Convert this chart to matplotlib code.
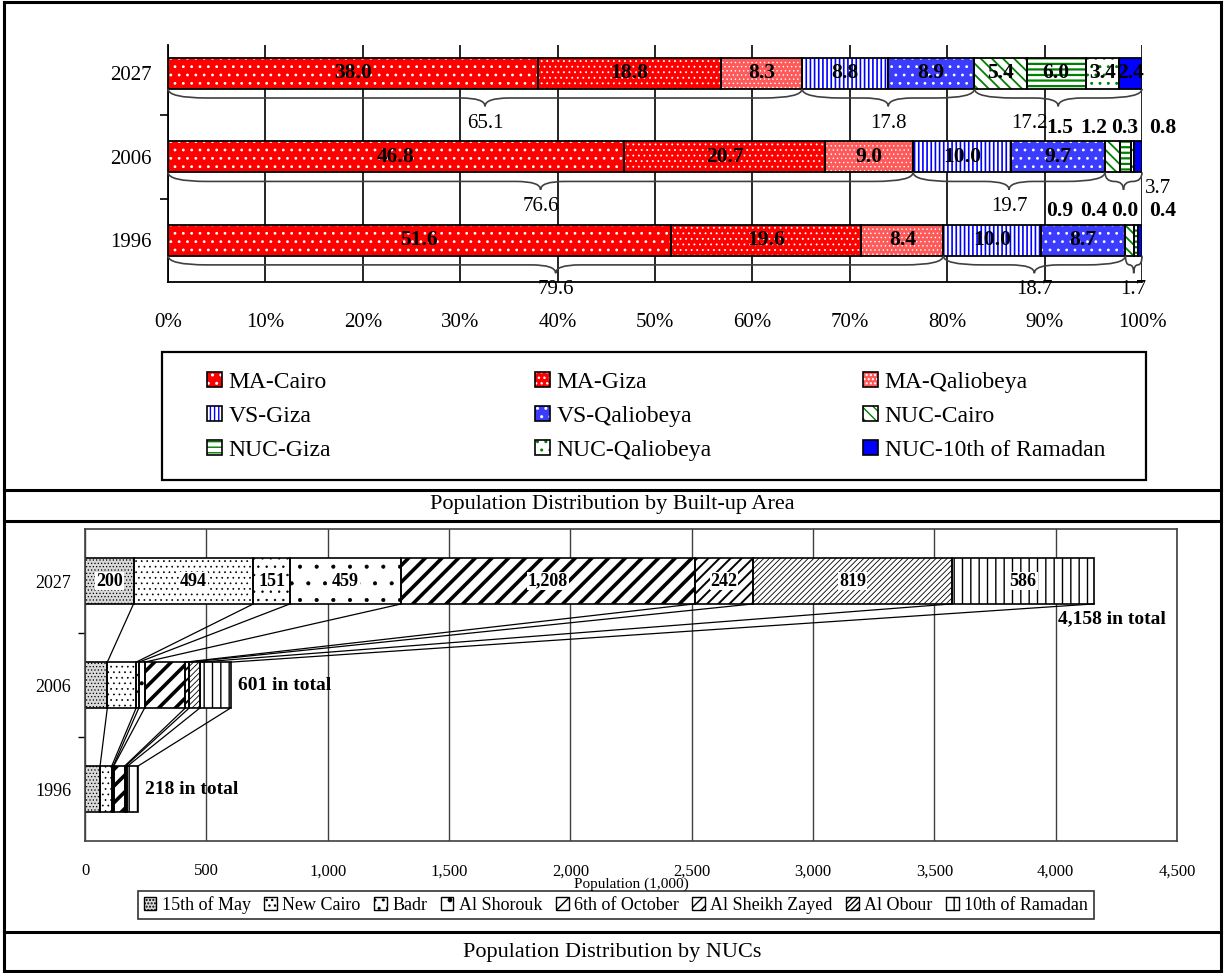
import matplotlib
matplotlib.use("Agg")
import matplotlib.pyplot as plt
import numpy as np
from matplotlib.patches import Patch, Rectangle, PathPatch
from matplotlib.path import Path
from matplotlib.lines import Line2D

plt.rcParams['font.family'] = ['Liberation Serif', 'DejaVu Serif']

# ---------------- data ----------------
years = ['2027', '2006', '1996']

area_names = ['MA-Cairo', 'MA-Giza', 'MA-Qaliobeya', 'VS-Giza', 'VS-Qaliobeya',
              'NUC-Cairo', 'NUC-Giza', 'NUC-Qaliobeya', 'NUC-10th of Ramadan']
share_2027 = [38.0, 18.8, 8.3, 8.8, 8.9, 5.4, 6.0, 3.4, 2.4]
share_2006 = [46.8, 20.7, 9.0, 10.0, 9.7, 1.5, 1.2, 0.3, 0.8]
share_1996 = [51.6, 19.6, 8.4, 10.0, 8.7, 0.9, 0.4, 0.0, 0.4]
group_sizes = [3, 2, 4]              # MA, VS, NUC
group_totals_2027 = [65.1, 17.8, 17.2]
group_totals_2006 = [76.6, 19.7, 3.7]
group_totals_1996 = [79.6, 18.7, 1.7]
pct_labels = ['0%', '10%', '20%', '30%', '40%', '50%', '60%', '70%', '80%', '90%', '100%']

nuc_names = ['15th of May', 'New Cairo', 'Badr', 'Al Shorouk', '6th of October',
             'Al Sheikh Zayed', 'Al Obour', '10th of Ramadan']
pop_2027 = [200, 494, 151, 459, 1208, 242, 819, 586]
pop_2006 = [92, 119, 11, 24, 168, 16, 44, 127]
pop_1996 = [62, 48, 6, 2, 45, 4, 8, 43]
pop_totals = [4158, 601, 218]
pop_ticks = [0, 500, 1000, 1500, 2000, 2500, 3000, 3500, 4000, 4500]

shares = [share_2027, share_2006, share_1996]
group_totals = [group_totals_2027, group_totals_2006, group_totals_1996]
pops = [pop_2027, pop_2006, pop_1996]

# ---------------- styles ----------------
# (face, hatch colour, hatch, hatch linewidth)
area_styles = [
    ('#ff0000', 'white', '..', 0.8),
    ('#ff0000', 'white', '...', 0.6),
    ('#ff5a5a', 'white', '....', 0.5),
    ('white', '#0000ff', '||||', 1.2),
    ('#3c3cff', 'white', '..', 0.8),
    ('white', '#008000', '\\\\\\', 1.3),
    ('white', '#008000', '---', 1.6),
    ('white', '#008000', '..', 0.9),
    ('#0000ff', '#0000ff', '', 0.0),
]
nuc_styles = [
    ('#d8d8d8', 'black', '.....', 0.5),
    ('white', 'black', '...', 0.5),
    ('white', 'black', '..', 0.5),
    ('white', 'black', '.', 0.5),
    ('white', 'black', '//', 2.6),
    ('white', 'black', '///', 1.4),
    ('white', 'black', '//////', 0.6),
    ('white', 'black', '||', 1.0),
]

W, H = 1225, 973
fig = plt.figure(figsize=(W / 100, H / 100), dpi=100)


def fx(px):
    return px / W


def fy(py):
    return 1 - py / H


def hatched_barh(ax, y, width, left, height, style, edge_lw, zorder=2):
    face, hcol, hatch, hlw = style
    bar = ax.barh(y, width, left=left, height=height, color=face,
                  edgecolor=hcol, hatch=hatch if hatch else None,
                  linewidth=0, zorder=zorder)[0]
    if hatch and hasattr(bar, 'set_hatch_linewidth'):
        bar.set_hatch_linewidth(hlw)
    ax.barh(y, width, left=left, height=height, fill=False,
            edgecolor='black', linewidth=edge_lw, zorder=zorder + 0.1)


def brace(ax, x0, x1, yb, d1, d2, color='#404040'):
    """Curly brace under a bar, opening upwards (y axis is inverted)."""
    m = (x0 + x1) / 2
    e = min(4.0, (x1 - x0) / 4)
    t = min(2.5, (x1 - x0) / 4)
    y1, y2 = yb + d1, yb + d2
    verts = [(x0, yb), (x0, y1), (x0 + e, y1), (m - t, y1),
             (m, y1), (m, y2), (m, y1), (m + t, y1),
             (x1 - e, y1), (x1, y1), (x1, yb)]
    codes = [Path.MOVETO, Path.CURVE3, Path.CURVE3, Path.LINETO,
             Path.CURVE3, Path.CURVE3, Path.CURVE3, Path.CURVE3,
             Path.LINETO, Path.CURVE3, Path.CURVE3]
    ax.add_patch(PathPatch(Path(verts, codes), fill=False, edgecolor=color,
                           linewidth=1.2, zorder=3, clip_on=False))


# ================= Built-up area chart =================
ax = fig.add_axes([fx(168), fy(282), fx(1142) - fx(168), (282 - 45) / H])
bar_h = 0.37
ypos = np.arange(len(years))
small_label_x = [91.6, 95.0, 98.2, 102.1]

for yi, vals in enumerate(shares):
    lefts = np.concatenate([[0], np.cumsum(vals)[:-1]])
    small_i = 0
    for si, (v, l) in enumerate(zip(vals, lefts)):
        hatched_barh(ax, yi, v, l, bar_h, area_styles[si], 1.3)
        if v >= 2.0:
            ax.text(l + v / 2, yi, f'{v:.1f}', ha='center', va='center',
                    fontsize=15.5, fontweight='bold', zorder=5)
        else:
            ax.text(small_label_x[small_i], yi - bar_h / 2 - 0.16, f'{v:.1f}',
                    ha='center', va='center', fontsize=15.5, fontweight='bold',
                    zorder=5, clip_on=False)
            small_i += 1
    # group braces
    bounds = np.concatenate([[0], np.cumsum(group_sizes)])
    cum = np.concatenate([[0], np.cumsum(vals)])
    for gi in range(len(group_sizes)):
        x0, x1 = cum[bounds[gi]], cum[bounds[gi + 1]]
        yb = yi + bar_h / 2
        brace(ax, x0, x1, yb, 0.11, 0.21)
        dx, dy = 0.0, 0.41
        if gi == 2 and yi == 0:
            dx = -3.0
        if gi == 2 and yi == 1:
            dx, dy = 3.5, 0.2
        ax.text((x0 + x1) / 2 + dx, yb + dy, f'{group_totals[yi][gi]:.1f}',
                ha='center', va='center', fontsize=15, zorder=5, clip_on=False)

ax.set_xlim(0, 100)
ax.set_ylim(2.5, -0.34)
ax.set_xticks(np.arange(0, 101, 10))
ax.set_xticklabels(pct_labels, fontsize=15)
ax.tick_params(axis='x', length=0, pad=22)
ax.set_yticks(ypos)
ax.set_yticklabels(years, fontsize=15)
ax.tick_params(axis='y', which='major', length=0, pad=12)
ax.set_yticks([0.5, 1.5], minor=True)
ax.tick_params(axis='y', which='minor', length=6, width=1.2, direction='out')
ax.grid(axis='x', color='black', linewidth=1.2)
ax.set_axisbelow(True)
for s in ['top', 'right']:
    ax.spines[s].set_visible(False)
for s in ['left', 'bottom']:
    ax.spines[s].set_linewidth(1.3)

# legend: three columns, three rows
fig.add_artist(Rectangle((fx(162), fy(480)), fx(1146) - fx(162), (480 - 352) / H,
                         transform=fig.transFigure, fill=False, edgecolor='black',
                         linewidth=1.6))
col_x = [207, 535, 863]
for c in range(3):
    hs, ls = [], []
    for r in range(3):
        k = r * 3 + c
        face, hcol, hatch, hlw = area_styles[k]
        p1 = Patch(facecolor=face, edgecolor=hcol, hatch=hatch if hatch else None, linewidth=0)
        p2 = Patch(fill=False, edgecolor='black', linewidth=1.2)
        hs.append((p1, p2))
        ls.append(area_names[k])
    fig.legend(hs, ls, loc='upper left', bbox_to_anchor=(fx(col_x[c]), fy(372)),
               frameon=False, borderpad=0, borderaxespad=0, fontsize=17,
               handlelength=0.62, handleheight=0.62, handletextpad=0.3,
               labelspacing=0.55)

# ================= NUC population chart =================
ax2 = fig.add_axes([fx(85), fy(841), fx(1177) - fx(85), (841 - 529) / H])
nuc_h = 0.44
cums = []
for yi, vals in enumerate(pops):
    lefts = np.concatenate([[0], np.cumsum(vals)[:-1]])
    cums.append(np.cumsum(vals))
    for si, (v, l) in enumerate(zip(vals, lefts)):
        hatched_barh(ax2, yi, v, l, nuc_h, nuc_styles[si], 1.2)
        if yi == 0:
            ax2.text(l + v / 2, yi, f'{v:,}', ha='center', va='center',
                     fontsize=13, fontweight='bold', zorder=6,
                     bbox=dict(facecolor='white', edgecolor='none', pad=0.6))

# series lines joining segment ends between years
for yi in range(len(pops) - 1):
    for a, b in zip(cums[yi], cums[yi + 1]):
        ax2.plot([a, b], [yi + nuc_h / 2, yi + 1 - nuc_h / 2], color='black',
                 linewidth=0.9, zorder=4)

ax2.text(pop_totals[0] + 75, 0.36, f'{pop_totals[0]:,} in total', ha='center',
         va='center', fontsize=14, fontweight='bold')
for yi in (1, 2):
    ax2.text(pop_totals[yi] + 30, yi, f'{pop_totals[yi]:,} in total', ha='left',
             va='center', fontsize=14, fontweight='bold')

ax2.set_xlim(0, 4500)
ax2.set_ylim(2.5, -0.5)
ax2.set_xticks(pop_ticks)
ax2.set_xticklabels([f'{t:,}' for t in pop_ticks], fontsize=12)
ax2.tick_params(axis='x', length=0, pad=16)
ax2.set_yticks(ypos)
ax2.set_yticklabels(years, fontsize=13)
ax2.tick_params(axis='y', which='major', length=0, pad=10)
ax2.set_yticks([0.5, 1.5], minor=True)
ax2.tick_params(axis='y', which='minor', length=5, width=1, direction='out')
ax2.grid(axis='x', color='#404040', linewidth=1)
ax2.set_axisbelow(True)
ax2.set_xlabel('Population (1,000)', fontsize=11, labelpad=-1)
for s in ax2.spines.values():
    s.set_color('#404040')
    s.set_linewidth(1.2)

nuc_handles = []
for st in nuc_styles:
    face, hcol, hatch, hlw = st
    nuc_handles.append((Patch(facecolor=face, edgecolor=hcol, hatch=hatch, linewidth=0),
                        Patch(fill=False, edgecolor='black', linewidth=1)))
fig.legend(nuc_handles, nuc_names, loc='center', bbox_to_anchor=(fx(616), fy(905)),
           ncol=8, frameon=True, fancybox=False, edgecolor='black', fontsize=13,
           handlelength=0.7, handleheight=0.7, handletextpad=0.3, columnspacing=0.75,
           borderpad=0.3).get_frame().set_linewidth(1.2)

# ================= captions and table frame =================
fig.text(fx(612), fy(505), 'Population Distribution by Built-up Area', ha='center',
         va='center', fontsize=16)
fig.text(fx(612), fy(952), 'Population Distribution by NUCs', ha='center',
         va='center', fontsize=16)

frame_kw = dict(color='black', linewidth=2.2, transform=fig.transFigure)
for yy in (2, 490, 521, 932, 971):
    fig.add_artist(Line2D([fx(4), fx(1221)], [fy(yy), fy(yy)], **frame_kw))
for xx in (4, 1221):
    fig.add_artist(Line2D([fx(xx), fx(xx)], [fy(2), fy(971)], **frame_kw))

fig.savefig('out.png', dpi=100)
